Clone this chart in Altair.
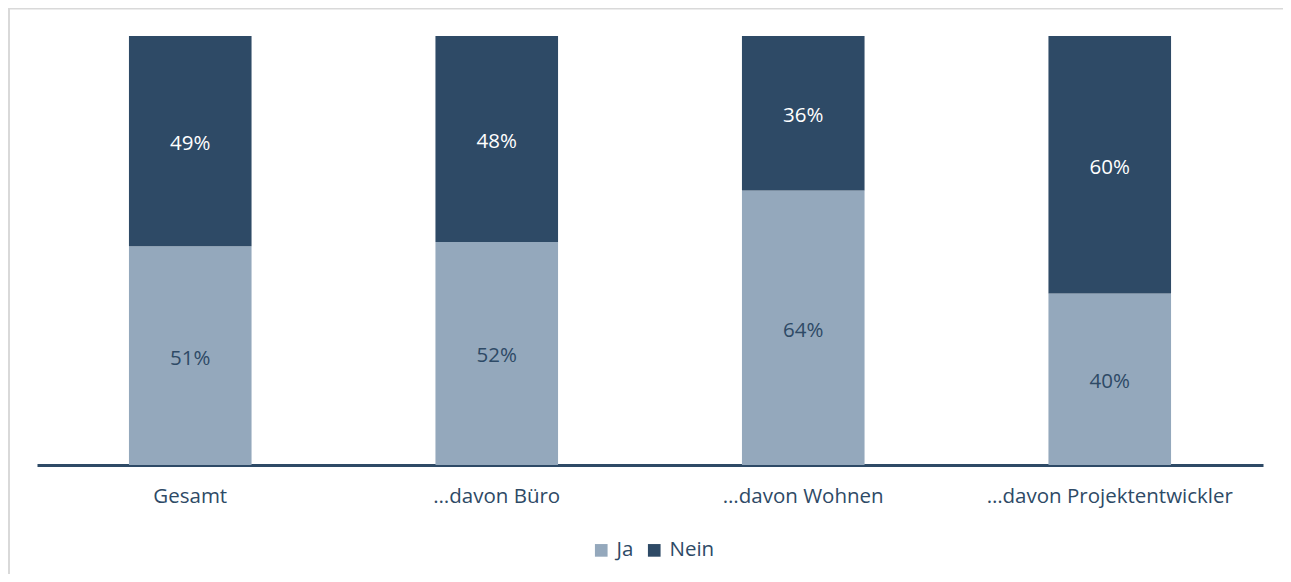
import altair as alt
import pandas as pd

categories = ["Gesamt", "…davon Büro", "…davon Wohnen", "…davon Projektentwickler"]
series = ["Ja", "Nein"]
ja_values = [51, 52, 64, 40]
nein_values = [49, 48, 36, 60]

rows = []
for c, j, n in zip(categories, ja_values, nein_values):
    rows.append({"cat": c, "series": "Ja", "value": j, "ord": 0})
    rows.append({"cat": c, "series": "Nein", "value": n, "ord": 1})
df = pd.DataFrame(rows)

DARK = "#2E4A66"
LIGHT = "#94A8BC"
FONT = "Open Sans"
FS = 20.5

x_enc = alt.X(
    "cat:N",
    sort=categories,
    scale=alt.Scale(paddingInner=0.6, paddingOuter=0.3),
    axis=alt.Axis(
        title=None,
        labelAngle=0,
        ticks=False,
        domainColor=DARK,
        domainWidth=3,
        labelColor=DARK,
        labelFont=FONT,
        labelFontSize=FS,
        labelPadding=21,
        labelLimit=0,
        grid=False,
    ),
)

base = alt.Chart(df)

bars = base.mark_bar().encode(
    x=x_enc,
    y=alt.Y("value:Q", stack="zero", scale=alt.Scale(domain=[0, 100]), axis=None),
    color=alt.Color(
        "series:N",
        scale=alt.Scale(domain=series, range=[LIGHT, DARK]),
        legend=alt.Legend(
            title=None,
            orient="none",
            direction="horizontal",
            legendX=554,
            legendY=504,
            symbolType="square",
            symbolSize=160,
            symbolStrokeWidth=0,
            labelFont=FONT,
            labelFontSize=FS,
            labelColor=DARK,
            columnPadding=10,
            labelOffset=5,
        ),
    ),
    order=alt.Order("ord:Q"),
)

labels = (
    base.transform_stack(
        stack="value", groupby=["cat"], sort=[alt.SortField("ord")], as_=["y0", "y1"]
    )
    .transform_calculate(mid="(datum.y0 + datum.y1) / 2", txt="datum.value + '%'")
    .mark_text(font=FONT, fontSize=FS, baseline="middle", dy=3)
    .encode(
        x=alt.X("cat:N", sort=categories),
        y=alt.Y("mid:Q", stack=None),
        text="txt:N",
        color=alt.condition("datum.series == 'Ja'", alt.value(DARK), alt.value("white")),
    )
)

frame = pd.DataFrame({"a": [0]})
top_border = alt.Chart(frame).mark_rule(color="#D9D9D9", strokeWidth=2).encode(
    x=alt.value(-29), x2=alt.value(1250), y=alt.value(-27.5)
)
left_border = alt.Chart(frame).mark_rule(color="#D9D9D9", strokeWidth=2).encode(
    x=alt.value(-28), y=alt.value(-29), y2=alt.value(540)
)

chart = (
    alt.layer(bars, labels, top_border, left_border)
    .properties(
        width=1226,
        height=429,
        autosize=alt.AutoSizeParams(type="none"),
        padding={"left": 29, "top": 28, "right": 20, "bottom": 109},
        background="white",
    )
    .configure_view(stroke=None)
)

chart.save("out.html", embed_options={"renderer": "svg", "actions": False})
